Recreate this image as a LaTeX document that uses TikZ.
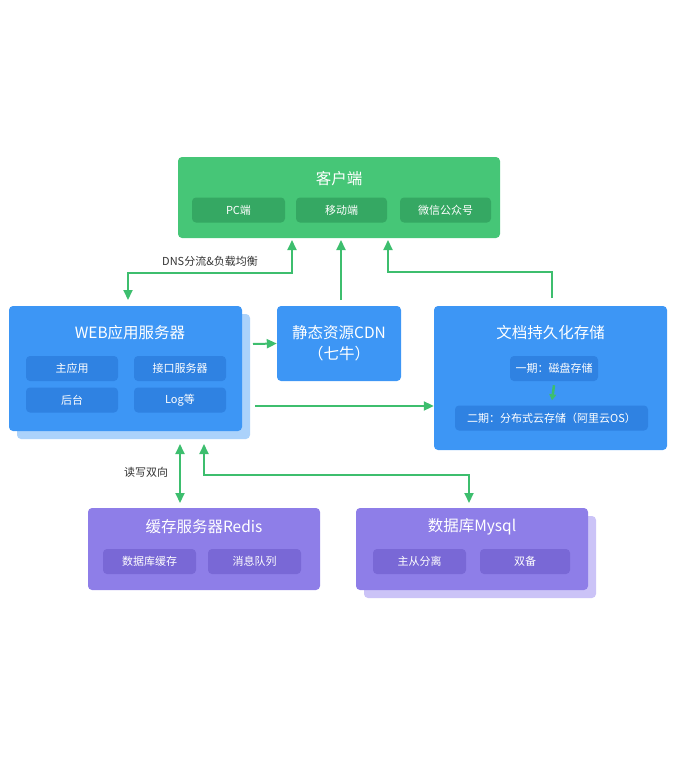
\documentclass[tikz,border=0pt]{standalone}
\usepackage{fontspec}
\setmainfont{Noto Sans CJK SC}
\usetikzlibrary{arrows.meta,positioning,calc}
\definecolor{cgreen}{HTML}{46C677}
\definecolor{cgreensub}{HTML}{35A863}
\definecolor{cblue}{HTML}{3D96F5}
\definecolor{cbluesub}{HTML}{2F82E2}
\definecolor{cblueshade}{HTML}{ABD2FB}
\definecolor{cpurple}{HTML}{8E7EE8}
\definecolor{cpurplesub}{HTML}{7968D6}
\definecolor{cpurpleshade}{HTML}{CBC3F7}
\definecolor{carrow}{HTML}{3DBE6E}
\begin{document}
\begin{tikzpicture}[x=1pt,y=-1pt,
    box/.style={rectangle, rounded corners=4pt, text=white, font=\fontsize{15.5}{18}\selectfont, align=center, inner sep=0pt},
    sub/.style={rectangle, rounded corners=4pt, text=white, font=\fontsize{11}{13}\selectfont, minimum height=25pt, inner sep=0pt},
    arrow/.style={-{Triangle[width=9pt,length=10pt]}, carrow, line width=2pt},
    darrow/.style={{Triangle[width=9pt,length=10pt]}-{Triangle[width=9pt,length=10pt]}, carrow, line width=2pt},
    lbl/.style={font=\fontsize{11}{13}\selectfont, text=black!80}
]
    \useasboundingbox (0,0) rectangle (680,760);

    % Client
    \node[box, fill=cgreen, minimum width=322pt, minimum height=81pt] (client) at (339,197.5) {};
    \node[box] (clientt) at (339,179) {客户端};
    \node[sub, fill=cgreensub, minimum width=93pt] (pc) at (238.5,210) {PC端};
    \node[sub, fill=cgreensub, minimum width=91pt] (mobile) at (341.5,210) {移动端};
    \node[sub, fill=cgreensub, minimum width=91pt] (wechat) at (445.5,210) {微信公众号};

    % WEB server
    \fill[cblueshade, rounded corners=4pt] (17,314) rectangle (250,439);
    \node[box, fill=cblue, minimum width=233pt, minimum height=125pt] (web) at (125.5,368.5) {};
    \node[box] (webt) at (130,333) {WEB应用服务器};
    \node[sub, fill=cbluesub, minimum width=92pt] (main) at (72,368.5) {主应用};
    \node[sub, fill=cbluesub, minimum width=92pt] (api) at (180,368.5) {接口服务器};
    \node[sub, fill=cbluesub, minimum width=92pt] (admin) at (72,400) {后台};
    \node[sub, fill=cbluesub, minimum width=92pt] (log) at (180,400) {Log等};

    % CDN
    \node[box, fill=cblue, minimum width=124pt, minimum height=75pt] (cdn) at (339,343.5) {静态资源CDN\\[3pt]（七牛）};

    % Docs
    \node[box, fill=cblue, minimum width=233pt, minimum height=144pt] (docs) at (550.5,378) {};
    \node[box] (docst) at (550.5,333) {文档持久化存储};
    \node[sub, fill=cbluesub, minimum width=88pt] (phase1) at (554,368.5) {一期：磁盘存储};
    \node[sub, fill=cbluesub, minimum width=193pt] (phase2) at (551.5,418) {二期：分布式云存储（阿里云OS）};

    % Redis
    \node[box, fill=cpurple, minimum width=232pt, minimum height=82pt] (redis) at (204,549) {};
    \node[box] (redist) at (204,527) {缓存服务器Redis};
    \node[sub, fill=cpurplesub, minimum width=93pt] (dbcache) at (149.5,561.5) {数据库缓存};
    \node[sub, fill=cpurplesub, minimum width=93pt] (queue) at (254.5,561.5) {消息队列};

    % Mysql
    \fill[cpurpleshade, rounded corners=4pt] (364,516) rectangle (596,598);
    \node[box, fill=cpurple, minimum width=232pt, minimum height=82pt] (mysql) at (472,549) {};
    \node[box] (mysqlt) at (472,527) {数据库Mysql};
    \node[sub, fill=cpurplesub, minimum width=93pt] (master) at (419.5,561.5) {主从分离};
    \node[sub, fill=cpurplesub, minimum width=90pt] (backup) at (525,561.5) {双备};

    % Arrows
    \draw[darrow] (128,300) |- (292,273) -- (292,240);
    \node[lbl] (dns) at (210,261) {DNS分流\&负载均衡};
    \draw[arrow] (341,300) -- (341,240);
    \draw[arrow] (552,298) |- (388,272) -- (388,240);
    \draw[arrow] (253,344) -- (cdn.west);
    \draw[arrow] (255,406) -- (docs.west |- 0,406);
    \draw[-{Triangle[width=7pt,length=6pt]}, carrow, line width=2.5pt] (phase1.south) ++(0,4) -- ($(phase2.north)+(0.5,-5)$);
    \draw[darrow] (180,444) -- (180,503);
    \node[lbl] (rw) at (146,472) {读写双向};
    \draw[darrow] (204,444) |- (469,475) -- (469,503);
\end{tikzpicture}
\end{document}
